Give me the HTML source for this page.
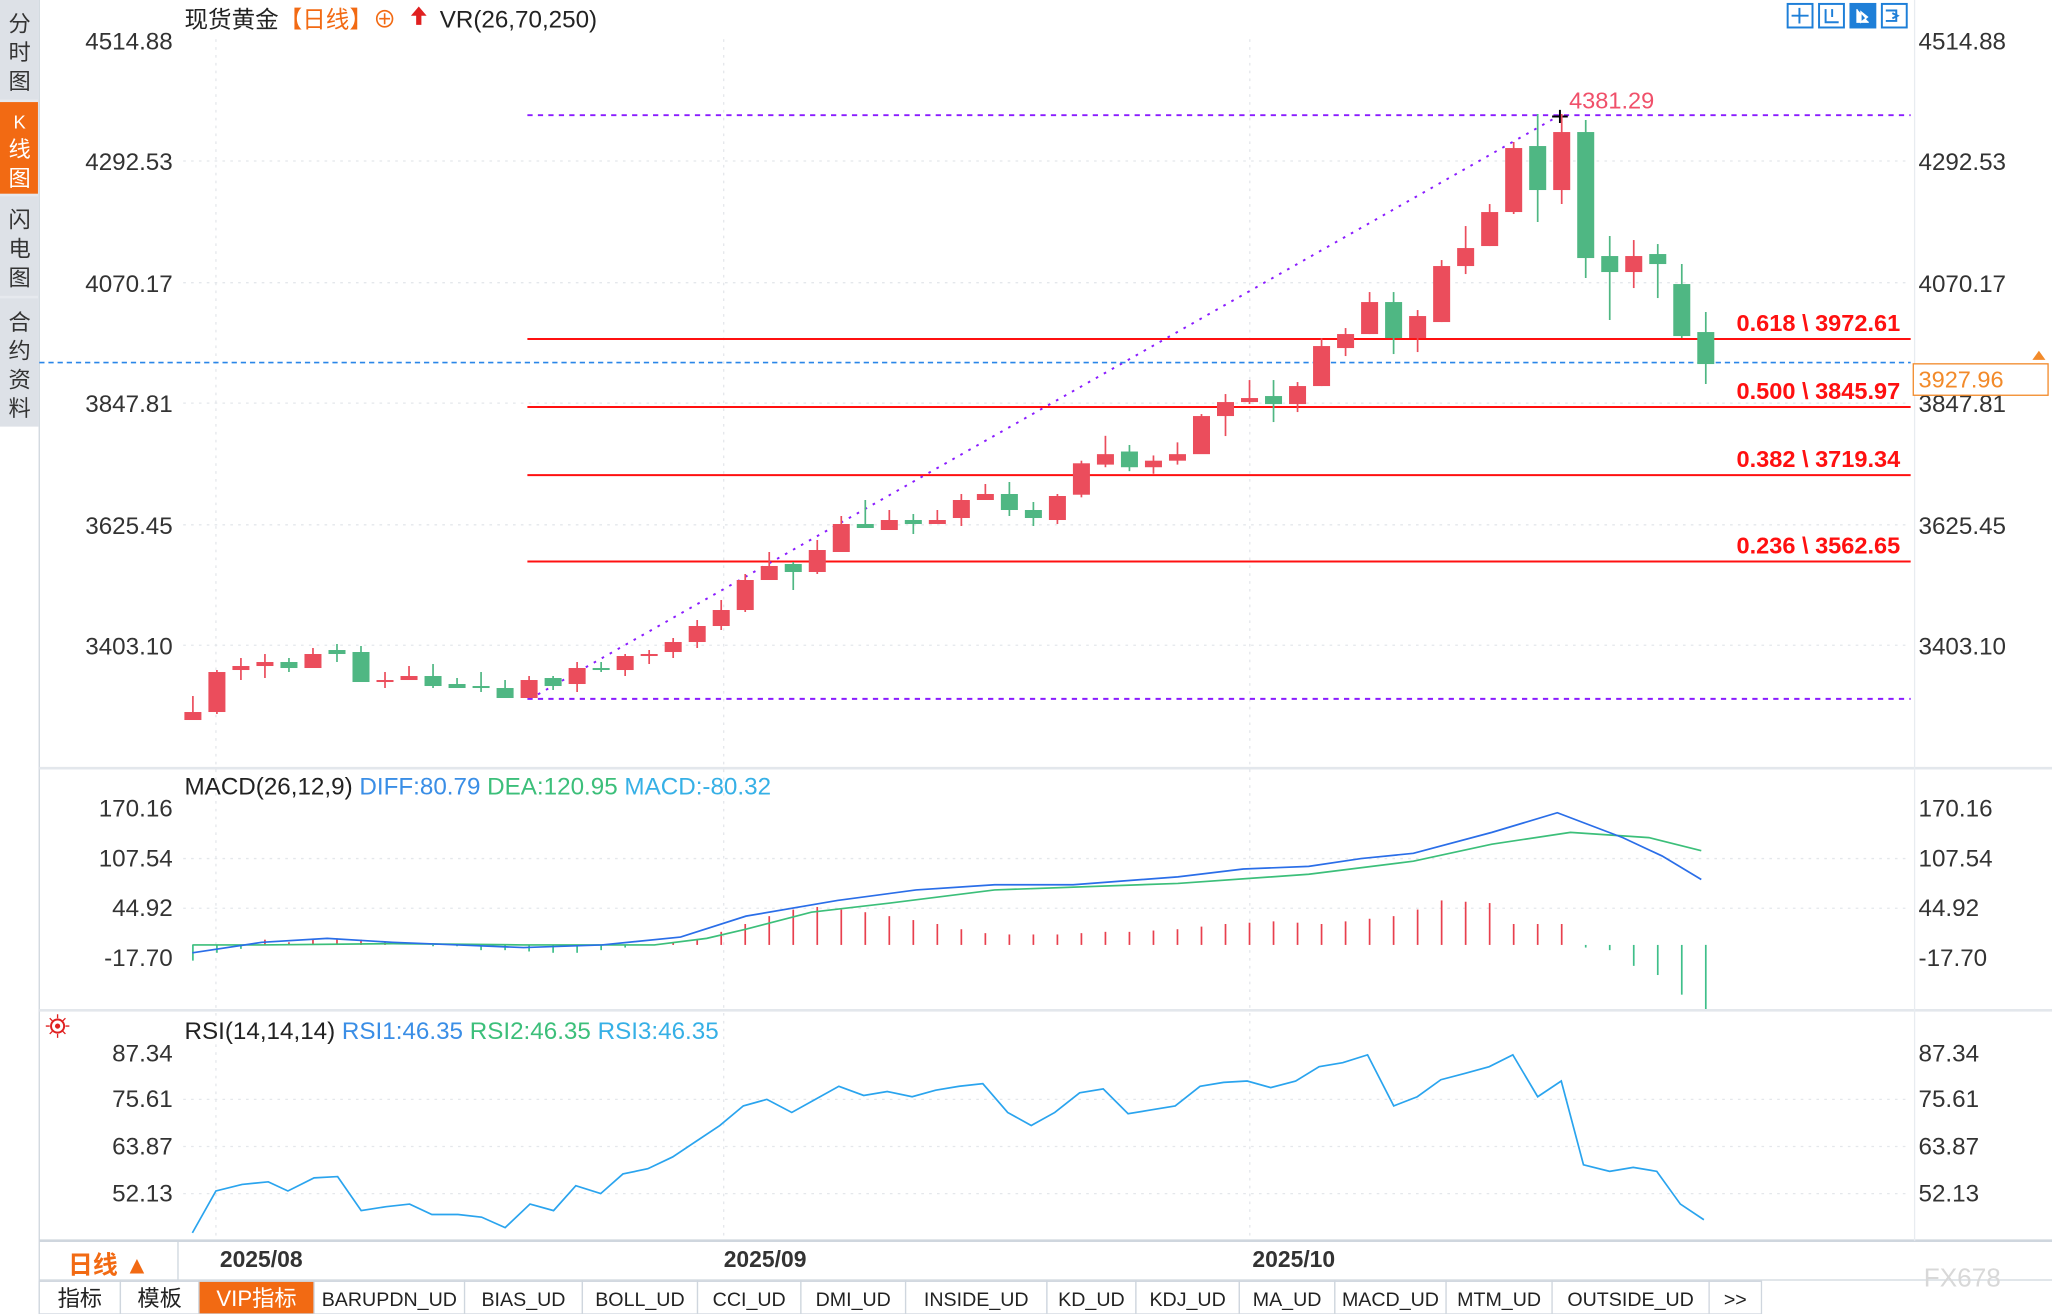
<!DOCTYPE html>
<html><head><meta charset="utf-8"><style>
html,body{margin:0;padding:0;background:#fff;overflow:hidden}
svg{display:block}
text{font-family:"Liberation Sans","Noto Sans CJK SC",sans-serif}
</style></head><body>
<svg id="s" width="2052" height="1314" viewBox="0 0 1568 1004" preserveAspectRatio="none" xmlns="http://www.w3.org/2000/svg">
<rect x="0" y="0" width="1568" height="1004" fill="#fff"/>
<rect x="0" y="0" width="30" height="1004" fill="#e6e9ee"/>
<rect x="0" y="0" width="29" height="76" fill="#dde1e7"/>
<rect x="0" y="78" width="29" height="70" fill="#f26a13"/>
<rect x="0" y="150" width="29" height="76" fill="#dde1e7"/>
<rect x="0" y="228" width="29" height="98" fill="#dde1e7"/>
<g font-size="17" fill="#333" text-anchor="middle">
<text x="15" y="24">分</text><text x="15" y="46">时</text><text x="15" y="68">图</text>
<text x="15" y="98" fill="#fff" font-size="14">K</text><text x="15" y="120" fill="#fff">线</text><text x="15" y="142" fill="#fff">图</text>
<text x="15" y="174">闪</text><text x="15" y="196">电</text><text x="15" y="218">图</text>
<text x="15" y="252">合</text><text x="15" y="274">约</text><text x="15" y="296">资</text><text x="15" y="318">料</text>
</g>
<rect x="0" y="326" width="30" height="678" fill="#fff"/>
<line x1="30" y1="0" x2="30" y2="1004" stroke="#cfd6de"/>
<line x1="30" y1="587" x2="1568" y2="587" stroke="#e3e7ec" stroke-width="2"/>
<line x1="30" y1="772" x2="1568" y2="772" stroke="#e3e7ec" stroke-width="2"/>
<line x1="30" y1="948" x2="1568" y2="948" stroke="#cfd6de" stroke-width="2"/>
<line x1="1463" y1="0" x2="1463" y2="948" stroke="#e8ecf0"/>
<line x1="136" y1="948" x2="136" y2="978" stroke="#cfd6de"/>
<line x1="30" y1="978" x2="1568" y2="978" stroke="#cfd6de"/>
<g stroke="#e4e7eb" stroke-dasharray="2,4">
<line x1="140" y1="123" x2="1460" y2="123"/><line x1="140" y1="216" x2="1460" y2="216"/>
<line x1="140" y1="308" x2="1460" y2="308"/><line x1="140" y1="401" x2="1460" y2="401"/>
<line x1="140" y1="493" x2="1460" y2="493"/>
<line x1="165" y1="30" x2="165" y2="948"/><line x1="553" y1="30" x2="553" y2="948"/><line x1="955" y1="30" x2="955" y2="948"/>
<line x1="140" y1="656" x2="1460" y2="656"/><line x1="140" y1="694" x2="1460" y2="694"/>
<line x1="140" y1="840" x2="1460" y2="840"/><line x1="140" y1="876" x2="1460" y2="876"/><line x1="140" y1="912" x2="1460" y2="912"/>
</g>
<g font-size="18.5" fill="#333">
<g text-anchor="end">
<text x="132" y="38">4514.88</text><text x="132" y="130">4292.53</text><text x="132" y="223">4070.17</text><text x="132" y="315">3847.81</text><text x="132" y="408">3625.45</text><text x="132" y="500">3403.10</text>
<text x="132" y="624">170.16</text><text x="132" y="662">107.54</text><text x="132" y="700">44.92</text><text x="132" y="738">-17.70</text>
<text x="132" y="811">87.34</text><text x="132" y="846">75.61</text><text x="132" y="882">63.87</text><text x="132" y="918">52.13</text>
</g>
<text x="1466" y="38">4514.88</text><text x="1466" y="130">4292.53</text><text x="1466" y="223">4070.17</text><text x="1466" y="315">3847.81</text><text x="1466" y="408">3625.45</text><text x="1466" y="500">3403.10</text>
<text x="1466" y="624">170.16</text><text x="1466" y="662">107.54</text><text x="1466" y="700">44.92</text><text x="1466" y="738">-17.70</text>
<text x="1466" y="811">87.34</text><text x="1466" y="846">75.61</text><text x="1466" y="882">63.87</text><text x="1466" y="918">52.13</text>
</g>
<text x="141" y="21" font-size="18" fill="#222">现货黄金<tspan fill="#f26a13">【日线】</tspan><tspan fill="#f26a13">⊕</tspan></text>
<path d="M320 5 l6 7 h-4 v7 h-4 v-7 h-4z" fill="#e02020"/>
<text x="336" y="21" font-size="18.5" fill="#222">VR(26,70,250)</text>
<g fill="none" stroke="#1e7fd8" stroke-width="1.5">
<rect x="1366" y="3" width="19" height="18"/><rect x="1390" y="3" width="19" height="18"/><rect x="1414" y="3" width="19" height="18" fill="#1e7fd8"/><rect x="1438" y="3" width="19" height="18"/>
<path d="M1375 6v12M1369 12h13M1395 7v10h10M1400 7v6M1441 8h8v8h-8M1446 10l4 2-4 2"/>
</g>
<path d="M1419 7v10h9M1422 9l5 4-5 4z" fill="#fff" stroke="#fff"/>
<g stroke="#ff1010" stroke-width="1.5">
<line x1="403" y1="259" x2="1460" y2="259"/><line x1="403" y1="311" x2="1460" y2="311"/>
<line x1="403" y1="363" x2="1460" y2="363"/><line x1="403" y1="429" x2="1460" y2="429"/>
</g>
<g stroke="#8a1cff" stroke-width="1.5" stroke-dasharray="4,4">
<line x1="403" y1="88" x2="1460" y2="88"/><line x1="403" y1="534" x2="1460" y2="534"/>
</g>
<line x1="405" y1="534" x2="1192" y2="88" stroke="#8a1cff" stroke-width="1.5" stroke-dasharray="2,5"/>
<line x1="30" y1="277" x2="1460" y2="277" stroke="#2a86e8" stroke-width="1.2" stroke-dasharray="4,3"/>
<g font-size="18" font-weight="bold" fill="#ff1010" text-anchor="end">
<text x="1452" y="253">0.618 \ 3972.61</text><text x="1452" y="305">0.500 \ 3845.97</text>
<text x="1452" y="357">0.382 \ 3719.34</text><text x="1452" y="423">0.236 \ 3562.65</text>
</g>
<text x="1199" y="83" font-size="18" fill="#f0506a">4381.29</text>
<path d="M1186 89h12M1192 84v10" stroke="#000" stroke-width="1.5"/>
<rect x="1462" y="278" width="103" height="24" fill="#fff" stroke="#f28a2a"/>
<text x="1466" y="296" font-size="18" fill="#f28a2a">3927.96</text>
<path d="M1553 275l5-7 5 7z" fill="#f28a2a"/>
<g id="candles"></g>
<text x="141" y="607" font-size="18.5" fill="#222">MACD(26,12,9) <tspan fill="#3a8ee6">DIFF:80.79</tspan> <tspan fill="#3cbf7a">DEA:120.95</tspan> <tspan fill="#36b0e6">MACD:-80.32</tspan></text>
<g id="macd"></g>
<text x="141" y="794" font-size="18.5" fill="#222">RSI(14,14,14) <tspan fill="#3a8ee6">RSI1:46.35</tspan> <tspan fill="#3cbf7a">RSI2:46.35</tspan> <tspan fill="#36b0e6">RSI3:46.35</tspan></text>
<circle cx="44" cy="784" r="5" fill="none" stroke="#e02020" stroke-width="1.5"/><circle cx="44" cy="784" r="2" fill="#e02020"/>
<path d="M35 784h3M50 784h3M44 775v3M44 790v3M38 778l2 2M48 788l2 2M38 790l2-2M48 780l2-2" stroke="#e02020"/>
<polyline fill="none" stroke="#2aa4ee" stroke-width="1.3" points="147,942 165,910 185,905 205,903 220,910 240,900 258,899 276,925 295,922 313,920 330,928 350,928 368,930 386,938 405,920 423,925 440,906 459,912 476,897 495,893 514,884 532,872 550,860 568,845 586,840 605,850 623,840 641,830 660,837 678,834 697,838 715,833 733,830 751,828 770,850 788,860 806,850 825,835 843,832 862,851 880,848 898,845 917,830 935,827 953,826 971,831 990,826 1008,815 1026,812 1045,806 1065,845 1083,838 1101,825 1120,820 1138,815 1156,806 1175,838 1193,826 1210,890 1230,895 1248,892 1266,895 1284,920 1302,932"/>
<text x="52" y="973" font-size="19" fill="#f26a13" font-weight="bold">日线 ▲</text>
<g font-size="17.5" font-weight="bold" fill="#333">
<text x="168" y="968">2025/08</text><text x="553" y="968">2025/09</text><text x="957" y="968">2025/10</text>
</g>
<text x="1470" y="983" font-size="20" fill="#d8d8d8">FX678</text>
<g id="tabs"></g>
</svg>
<script>
var NS="http://www.w3.org/2000/svg";
function el(p,t,a){var e=document.createElementNS(NS,t);for(var k in a)e.setAttribute(k,a[k]);p.appendChild(e);return e;}
var R="#eb4d5c",G="#4fb783";
var z1=[["R",816,840,768,840],["R",696,816,690,822],["R",678,690,654,720],["R",666,678,642,714],["G",666,684,654,696],["R",642,684,624,684],["G",630,642,612,666],["G",636,726,618,726],["R",720,726,696,744],["R",708,720,678,720],["G",708,738,672,744],["G",732,744,714,744],["G",738,744,696,756],["G",744,774,720,774],["R",720,774,708,774],["G",714,738,708,750],["R",684,732,666,756],["G",684,690,666,696],["R",648,690,642,708],["R",642,648,630,672],["R",606,636,594,654],["R",558,606,540,624],["R",510,558,480,570],["R",420,510,402,516],["R",378,420,336,420],["G",372,396,366,450],["R",330,396,300,402],["R",252,336,228,336],["G",252,264,180,264],["R",240,270,210,270],["G",240,252,222,282],["R",240,252,210,252],["R",180,234,162,258],["R",162,180,132,180],["G",162,210,126,228],["G",210,234,186,258],["R",168,240,162,252]];
var C=[];
z1.forEach(function(c){C.push([c[0]].concat(c.slice(1).map(function(v){return 336.2+v*0.2547;})));});
C.push(["R",354,378,352,380],["R",347,355,333,357],["G",345,357,340,360],["R",352,357,348,362],["R",347,352,338,355]);
var z2=[["R",978,1050,972,1050],["R",936,978,912,1038],["R",924,936,870,942],["G",918,942,870,996],["R",888,942,876,966],["R",768,888,744,888],["R",732,774,714,798],["R",636,732,606,732],["G",636,744,606,792],["R",678,744,660,786],["R",528,696,510,696],["R",474,528,408,552],["R",366,468,342,468],["R",174,366,156,372],["G",168,300,72,396],["R",126,300,72,342],["G",126,504,90,564],["G",498,546,438,690],["R",498,546,450,594],["G",492,522,462,624],["G",582,738,522,744],["G",726,822,666,882]];
z2.forEach(function(c,i){var a=c.slice(1).map(function(v){return 68.8+v*0.2547;});if(i==0){a[1]=347;}C.push([c[0]].concat(a));});
var g=document.getElementById("candles");
C.forEach(function(c,i){var x=147.4+18.35*i,col=c[0]==="R"?R:G;
el(g,"line",{x1:x,x2:x,y1:c[3],y2:c[4],stroke:col,"stroke-width":1.3});
el(g,"rect",{x:x-6.5,y:c[1],width:13,height:Math.max(c[2]-c[1],1.5),fill:col});});
var m=document.getElementById("macd");
var tops=[712,706,700,695,693,695,697,700,703,706,710,713,714,714,714,713,712,712,711,710,708,706,705,704,705,706,704,702,700,695,688,689,690,706];
var early=[734,728,725,718,720,718,717,718,720,722,723,723,726,726,727,728,728,726,724,722,720,718];
for(var i=0;i<64;i++){var x=147.4+18.35*i,y;
 if(i>=58){var d=[726,738,745,760,771][i-59]||724;el(m,"line",{x1:x,x2:x,y1:722,y2:d,stroke:"#3fbf8a","stroke-width":1.3});continue;}
 if(i<22){y=early[i];el(m,"line",{x1:x,x2:x,y1:722,y2:y,stroke:y>722?"#3fbf8a":"#e8404e","stroke-width":1.3});continue;}
 y=tops[i-22]||706;
 el(m,"line",{x1:x,x2:x,y1:722,y2:y,stroke:"#e8404e","stroke-width":1.3});}
el(m,"polyline",{fill:"none",stroke:"#3cbf7a","stroke-width":1.3,points:"147,722 200,722 300,721 400,722 500,722 540,717 570,710 620,697 680,690 760,680 900,675 1000,668 1080,658 1140,645 1200,636 1260,640 1300,650"});
el(m,"polyline",{fill:"none",stroke:"#2a6ee8","stroke-width":1.3,points:"147,728 200,720 250,717 300,720 350,722 400,724 460,722 520,716 570,700 640,688 700,680 760,676 820,676 900,670 950,664 1000,662 1040,656 1080,652 1140,636 1190,621 1240,640 1270,654 1300,672"});
var t=document.getElementById("tabs");
var tabs=[["指标",30,92],["模板",92,152],["VIP指标",152,240],["BARUPDN_UD",240,355],["BIAS_UD",355,445],["BOLL_UD",445,533],["CCI_UD",533,612],["DMI_UD",612,692],["INSIDE_UD",692,800],["KD_UD",800,868],["KDJ_UD",868,947],["MA_UD",947,1020],["MACD_UD",1020,1105],["MTM_UD",1105,1186],["OUTSIDE_UD",1186,1306],[">>",1306,1346]];
tabs.forEach(function(a,i){var on=i==2;
el(t,"rect",{x:a[1],y:979,width:a[2]-a[1],height:25,fill:on?"#f26a13":"#fff",stroke:"#cfd6de"});
var tx=el(t,"text",{x:(a[1]+a[2])/2,y:998,"text-anchor":"middle","font-size":i<3?17:15,fill:on?"#fff":"#222","font-family":i<3?"Liberation Sans, Noto Sans CJK SC, sans-serif":"Liberation Mono, monospace"});tx.textContent=a[0];});
</script>
</body></html>
